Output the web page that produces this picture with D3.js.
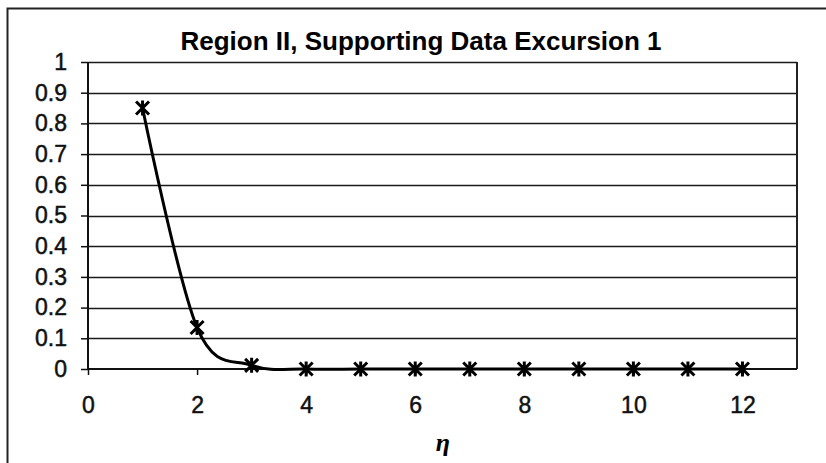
<!DOCTYPE html>
<html>
<head>
<meta charset="utf-8">
<script src="https://cdn.jsdelivr.net/npm/d3@7"></script>
<style>
	body { margin: 0; background: #fff; }
	svg { display: block; }
	.tick text { font-family: "Liberation Sans", Arial, sans-serif; }
</style>
</head>
<body>
<svg id="chart" width="826" height="463"></svg>
<script>
// series
const etaValues = [1, 2, 3, 4, 5, 6, 7, 8, 9, 10, 11, 12];
const probValues = [0.85, 0.135, 0.012, 0, 0, 0, 0, 0, 0, 0, 0, 0];
const xTickValues = [0, 2, 4, 6, 8, 10, 12];
const yTickValues = [0, 0.1, 0.2, 0.3, 0.4, 0.5, 0.6, 0.7, 0.8, 0.9, 1];
const chartTitle = "Region II, Supporting Data Excursion 1";
const xLabel = "η";

const svg = d3.select("#chart");
const plot = { left: 88, right: 797, top: 62, bottom: 369 };

const x = d3.scaleLinear().domain([0, 13]).range([plot.left, plot.right]);
const y = d3.scaleLinear().domain([0, 1]).range([plot.bottom, plot.top]);

// outer chart frame (right and bottom edges fall off the page)
svg.append("rect")
	.attr("x", 7.5).attr("y", 8.5)
	.attr("width", 830).attr("height", 470)
	.attr("fill", "none")
	.attr("stroke", "#222")
	.attr("stroke-width", 2);

// gridlines
svg.append("g")
	.selectAll("line")
	.data(yTickValues.slice(1))
	.join("line")
	.attr("x1", plot.left).attr("x2", plot.right)
	.attr("y1", d => Math.round(y(d)) + 0.5).attr("y2", d => Math.round(y(d)) + 0.5)
	.attr("stroke", "#1a1a1a")
	.attr("stroke-width", 1.3);

// right border of plot area
svg.append("line")
	.attr("x1", plot.right).attr("x2", plot.right)
	.attr("y1", plot.top).attr("y2", plot.bottom)
	.attr("stroke", "#222")
	.attr("stroke-width", 2);

const yAxis = svg.append("g")
	.attr("transform", `translate(${plot.left},0)`)
	.call(d3.axisLeft(y).tickValues(yTickValues).tickSize(7).tickPadding(14)
		.tickFormat(d3.format("")));

const xAxis = svg.append("g")
	.attr("transform", `translate(0,${plot.bottom})`)
	.call(d3.axisBottom(x).tickValues(xTickValues).tickSize(6).tickPadding(22));

[yAxis, xAxis].forEach(ax => {
	ax.select(".domain").attr("stroke", "#111").attr("stroke-width", 2);
	ax.selectAll(".tick line").attr("stroke", "#111").attr("stroke-width", 1.5);
	ax.selectAll(".tick text")
		.attr("fill", "#111")
		.attr("stroke", "#111")
		.attr("stroke-width", 0.5)
		.attr("font-size", 23);
});
xAxis.select(".domain").attr("d", `M${plot.left},0H${plot.right}`);
yAxis.select(".domain").attr("d", `M0,${plot.top}V${plot.bottom}`);

// smoothed series line
const line = d3.line()
	.x((d, i) => x(etaValues[i]))
	.y(d => y(d))
	.curve(d3.curveCatmullRom.alpha(0));

svg.append("path")
	.datum(probValues)
	.attr("d", line)
	.attr("fill", "none")
	.attr("stroke", "#000")
	.attr("stroke-width", 3);

// star markers: an x plus a vertical bar
const m = 6.5;
const starPath = `M${-m},${-m}L${m},${m}M${-m},${m}L${m},${-m}M0,${-m - 1}V${m + 1}`;
svg.append("g")
	.selectAll("path")
	.data(probValues)
	.join("path")
	.attr("transform", (d, i) => `translate(${x(etaValues[i])},${y(d)})`)
	.attr("d", starPath)
	.attr("fill", "none")
	.attr("stroke", "#000")
	.attr("stroke-width", 3);

svg.append("text")
	.attr("x", 421).attr("y", 50)
	.attr("text-anchor", "middle")
	.attr("font-family", "Liberation Sans, Arial, sans-serif")
	.attr("font-weight", "bold")
	.attr("font-size", 26)
	.attr("fill", "#000")
	.text(chartTitle);

svg.append("text")
	.attr("x", 443).attr("y", 451)
	.attr("text-anchor", "middle")
	.attr("font-family", "Liberation Serif, Times New Roman, serif")
	.attr("font-style", "italic")
	.attr("font-weight", "bold")
	.attr("font-size", 26)
	.attr("fill", "#000")
	.text(xLabel);
</script>
</body>
</html>
